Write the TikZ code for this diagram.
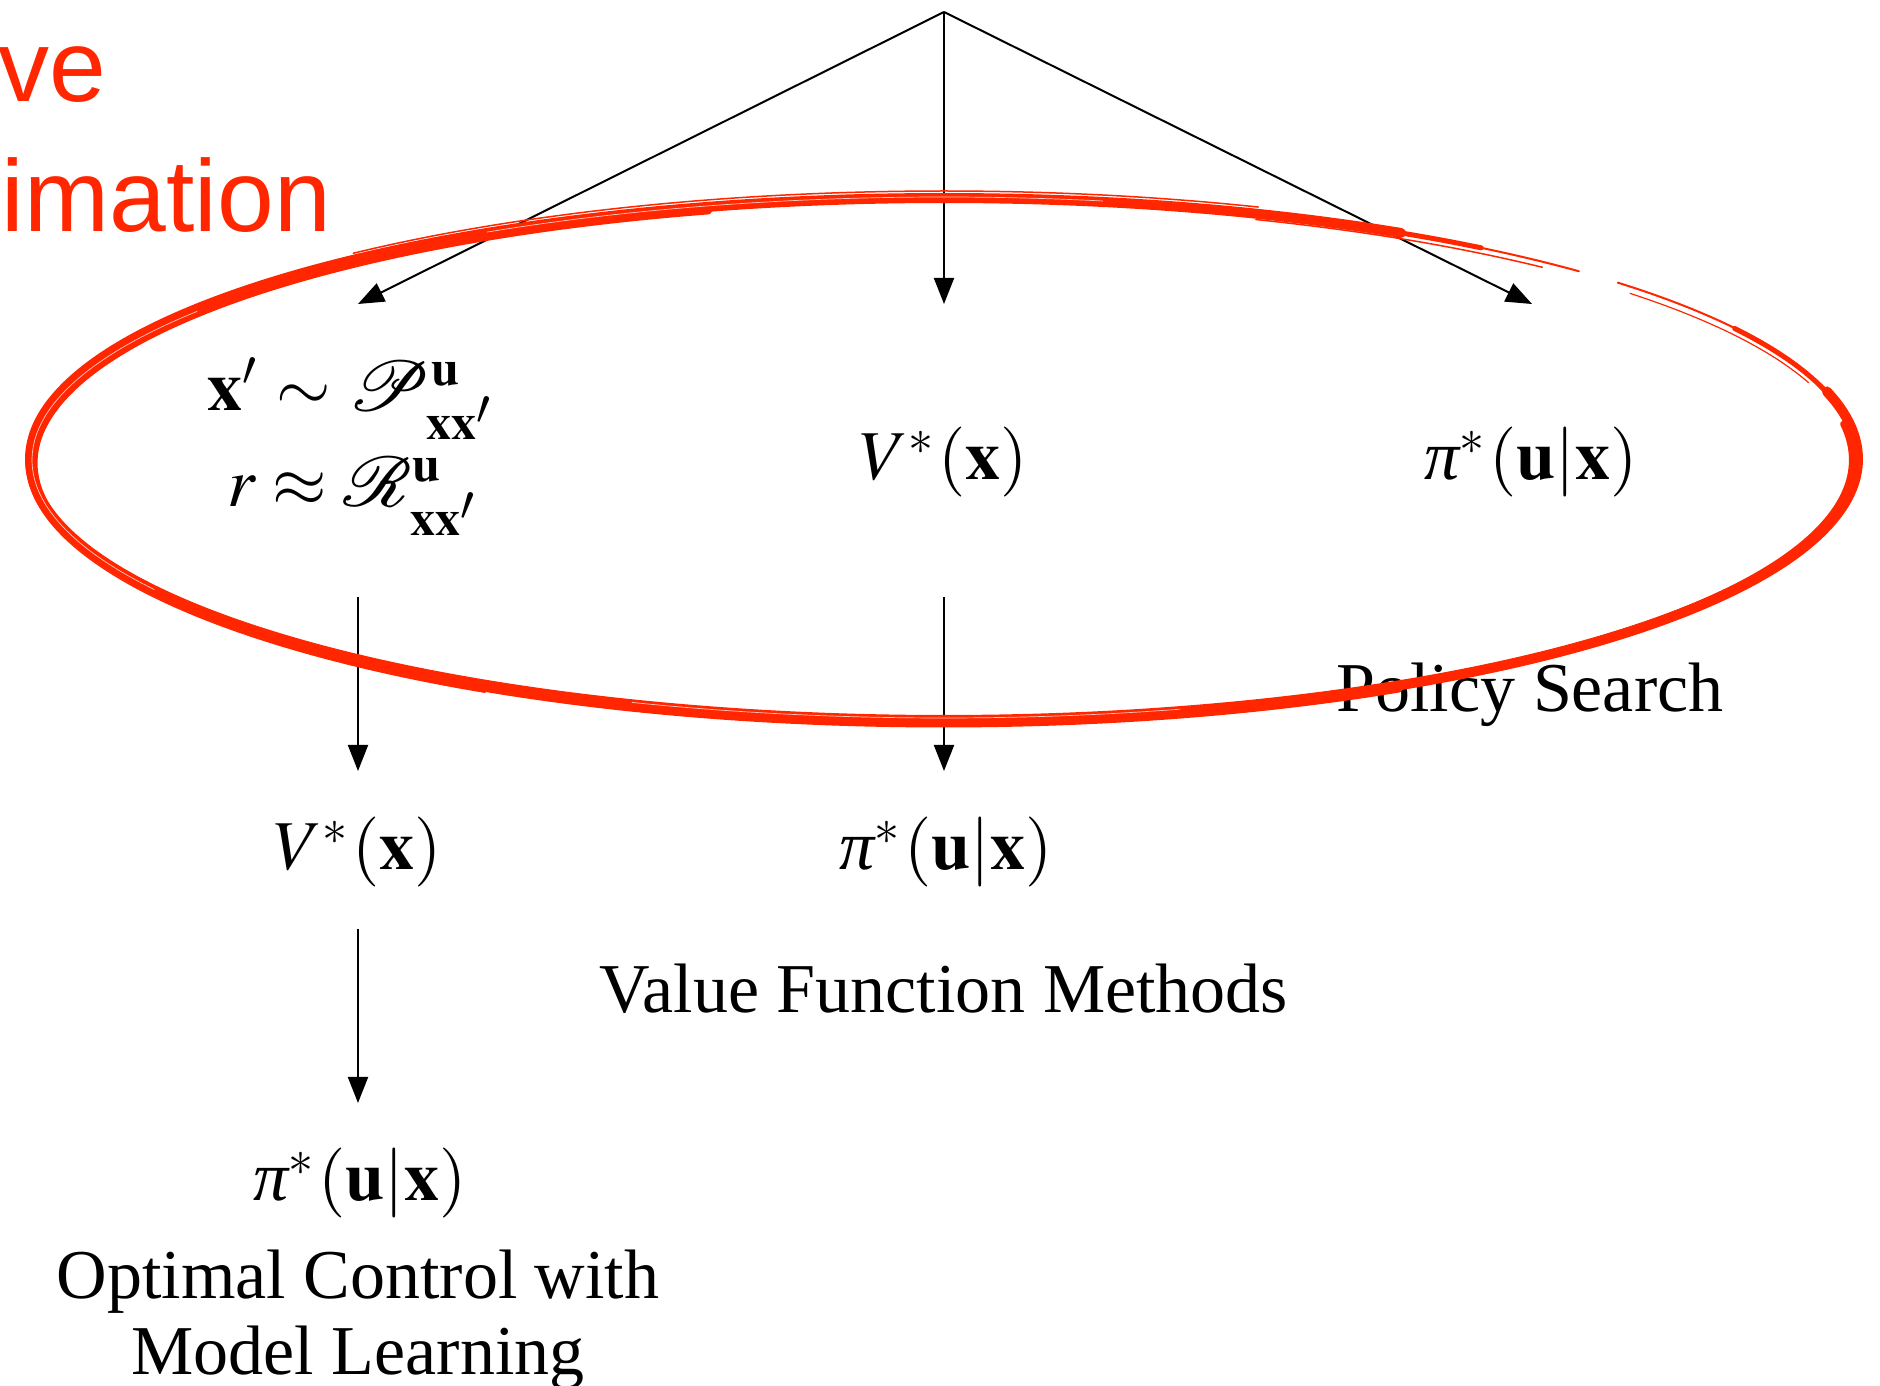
\documentclass[tikz,border=0pt]{standalone}
\usepackage{mathptmx}
\usepackage{mathrsfs}
\usepackage{fontspec}
\setmainfont{Liberation Serif}
\newfontfamily\redsans{Liberation Sans}
\newcommand{\itpi}{\mbox{\itshape π}}
\usetikzlibrary{arrows.meta}
\definecolor{brush}{RGB}{255,38,0}
\tikzset{
  lbl/.style={inner sep=0pt, anchor=base, font=\fontsize{7}{8.4}\selectfont},
  redlbl/.style={inner sep=0pt, anchor=base west, text=brush, font=\redsans\fontsize{10.2}{12}\selectfont},
  arr/.style={line width=0.2pt, -{Triangle[length=2.6pt,width=2pt]}},
  stroke/.style={draw=brush, line cap=round, line join=round},
  streak/.style={draw=white, line cap=round, line width=0.07pt, opacity=0.75},
}
\begin{document}
\begin{tikzpicture}[x=0.1pt,y=-0.1pt]
\useasboundingbox (0,0) rectangle (1880,1386);

% red labels (cut at the left edge)
\node[redlbl] (ve) at (-3,102) {ve};
\node[redlbl] (imation) at (0,232) {imation};

% top row
\node[lbl] (modA) at (354,411) {$\mathbf{x}'\;{\sim}\;\mathscr{P}^{\mathbf{u}}_{\mathbf{x}\mathbf{x}'}$};
\node[lbl] (modB) at (356,507) {$r\;{\approx}\;\mathscr{R}^{\mathbf{u}}_{\mathbf{x}\mathbf{x}'}$};
\node[lbl] (vtop) at (944,480) {$V^*(\mathbf{x})$};
\node[lbl] (ptop) at (1531,480) {$\itpi^*(\mathbf{u}|\mathbf{x})$};
\node[lbl] (ps) at (1530,712) {Policy Search};

% second row
\node[lbl] (vmid) at (358,870) {$V^*(\mathbf{x})$};
\node[lbl] (pmid) at (946,870) {$\itpi^*(\mathbf{u}|\mathbf{x})$};
\node[lbl] (vfm) at (944,1013) {Value Function Methods};

% third row
\node[lbl] (pbot) at (360,1201) {$\itpi^*(\mathbf{u}|\mathbf{x})$};
\node[lbl] (oc1) at (358,1299) {Optimal Control with};
\node[lbl] (oc2) at (358,1374) {Model Learning};

% connectors
\coordinate (apex) at (944,12);
\coordinate (tl) at (358,304);
\coordinate (tm) at (944,304);
\coordinate (tr) at (1532,304);
\coordinate (l1s) at (358,597);
\coordinate (l1e) at (358,771);
\coordinate (m1s) at (944,597);
\coordinate (m1e) at (944,771);
\coordinate (l2s) at (358,929);
\coordinate (l2e) at (358,1103);
\draw[arr] (apex) -- (tl);
\draw[arr] (apex) -- (tm);
\draw[arr] (apex) -- (tr);
\draw[arr] (l1s) -- (l1e);
\draw[arr] (m1s) -- (m1e);
\draw[arr] (l2s) -- (l2e);

% hand-drawn red ellipse
\draw[stroke, line width=1.0pt] plot[smooth, domain=-15:300, samples=150] ({944+914*cos(\x)},{459+261*sin(\x)});
\draw[stroke, line width=0.7pt] plot[smooth, domain=60:255, samples=90] ({944+910*cos(\x)},{463+261*sin(\x)});
\draw[stroke, line width=0.6pt] plot[smooth, domain=-8:70, samples=50] ({944+908*cos(\x)},{460+259*sin(\x)});
\draw[stroke, line width=0.5pt] plot[smooth, domain=292:306, samples=20] ({944+914*cos(\x)},{459+261*sin(\x)});
\draw[stroke, line width=0.2pt] plot[smooth, domain=300:314, samples=20] ({944+914*cos(\x)},{459+261*sin(\x)});
\draw[stroke, line width=0.15pt] plot[smooth, domain=290:311, samples=20] ({944+912*cos(\x)},{462+258*sin(\x)});
\draw[stroke, line width=0.2pt] plot[smooth, domain=317.5:336, samples=20] ({944+914*cos(\x)},{459+261*sin(\x)});
\draw[stroke, line width=0.12pt] plot[smooth, domain=319:342, samples=20] ({944+909*cos(\x)},{462+257*sin(\x)});
\draw[stroke, line width=0.5pt] plot[smooth, domain=330:350, samples=20] ({944+913*cos(\x)},{459+261*sin(\x)});
\draw[stroke, line width=0.15pt] plot[smooth, domain=230:290, samples=40] ({944+919*cos(\x)},{457+266*sin(\x)});
\draw[stroke, line width=0.15pt] plot[smooth, domain=120:200, samples=40] ({944+918*cos(\x)},{461+267*sin(\x)});
\draw[streak] plot[smooth, domain=150:215, samples=40] ({944+912*cos(\x)},{460+259*sin(\x)});
\draw[streak] plot[smooth, domain=240:280, samples=30] ({944+914*cos(\x)},{459+262*sin(\x)});
\draw[streak] plot[smooth, domain=75:110, samples=30] ({944+912*cos(\x)},{460+258*sin(\x)});
\end{tikzpicture}
\end{document}
